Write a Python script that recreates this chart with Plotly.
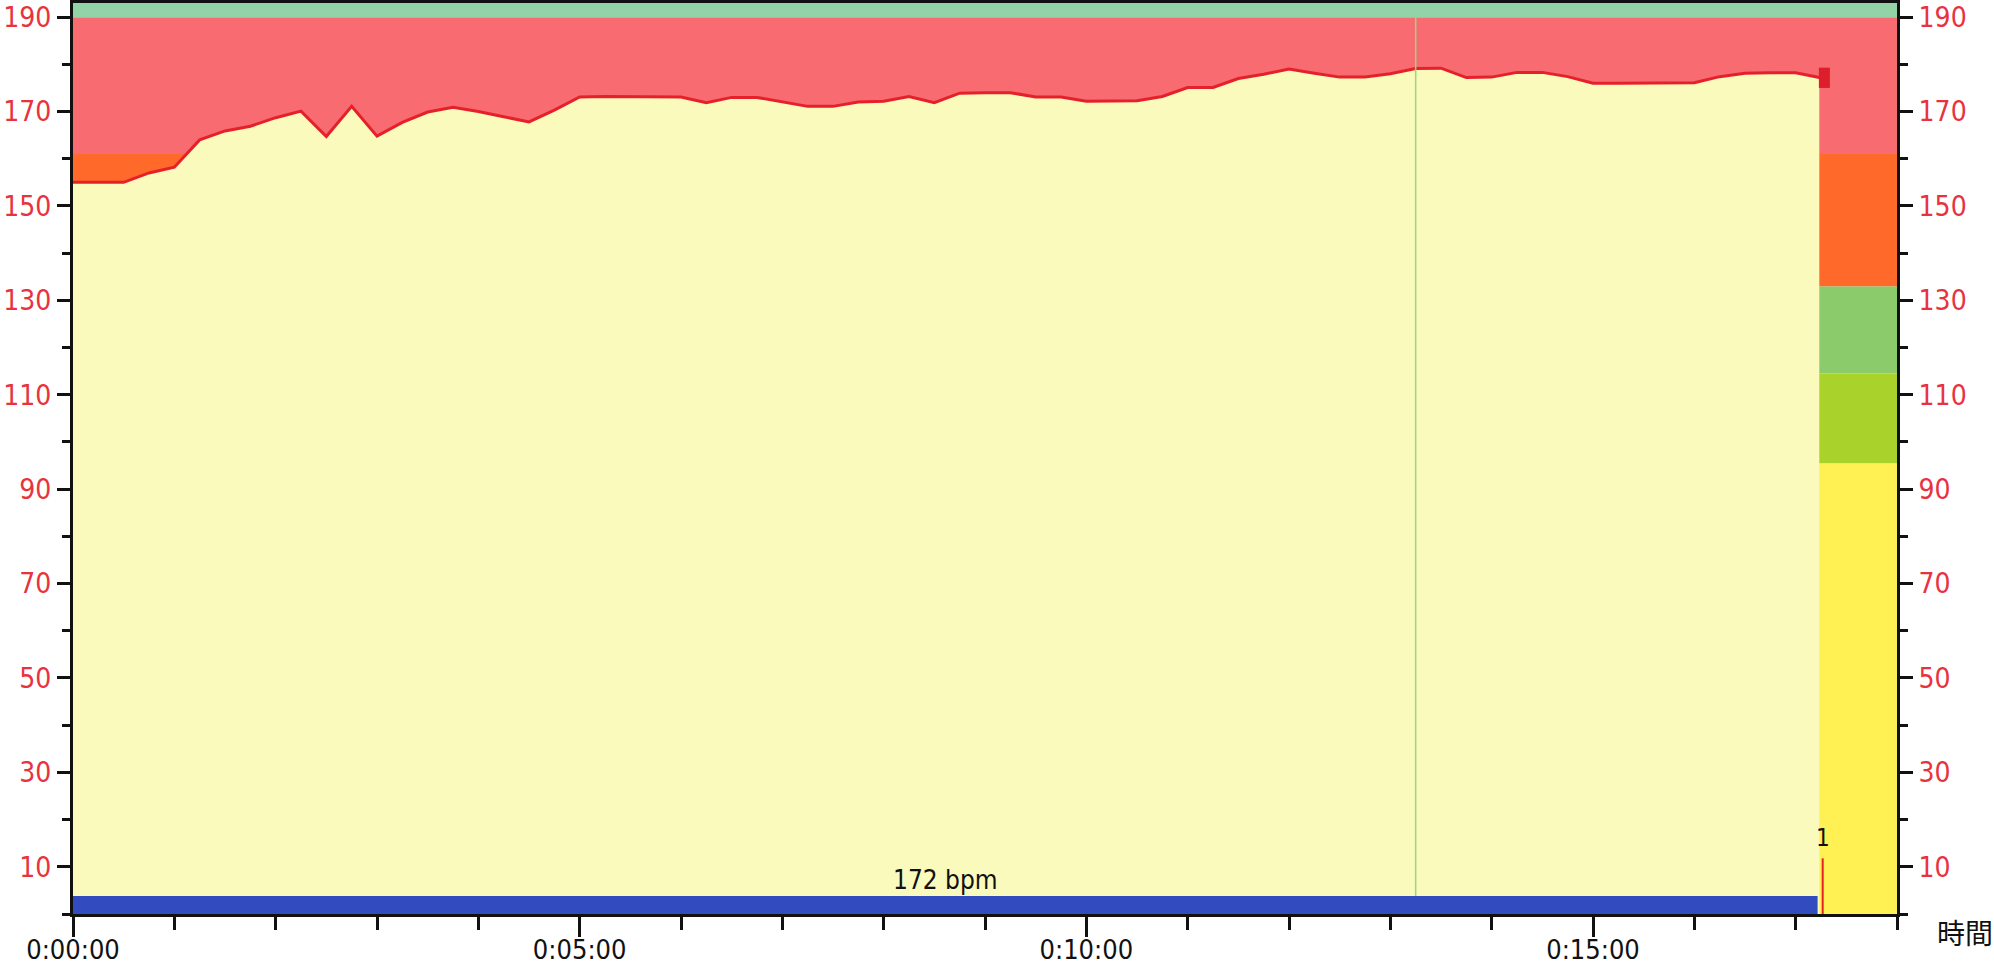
import plotly.graph_objects as go

# ---- data ----
time_s = [0, 15, 30, 45, 60, 75, 90, 105, 120, 135, 150, 165, 180, 195, 210, 225, 240, 255,
          270, 285, 300, 315, 330, 345, 360, 375, 390, 405, 420, 435, 450, 465, 480, 495,
          510, 525, 540, 555, 570, 585, 600, 615, 630, 645, 660, 675, 690, 705, 720, 735,
          750, 765, 780, 795, 810, 825, 840, 855, 870, 885, 900, 915, 930, 945, 960, 975,
          990, 1005, 1020, 1034]
heart_rate = [155.0, 155.0, 155.0, 157.0, 158.2, 164.0, 165.9, 166.9, 168.7, 170.1, 164.7, 171.1,
              164.8, 167.7, 169.9, 170.9, 170.0, 168.9, 167.8, 170.3, 173.1, 173.2, 173.2, 173.2,
              173.1, 171.9, 173.0, 173.0, 172.0, 171.1, 171.1, 172.0, 172.2, 173.2, 171.9, 173.9,
              174.0, 174.0, 173.1, 173.1, 172.2, 172.3, 172.3, 173.2, 175.1, 175.1, 177.0, 177.9,
              179.0, 178.1, 177.3, 177.3, 178.0, 179.1, 179.2, 177.2, 177.3, 178.3, 178.3, 177.4,
              176.0, 176.0, 176.0, 176.1, 176.1, 177.4, 178.1, 178.2, 178.2, 177.2]

zone_bounds = [0, 95.5, 114.5, 133, 161, 190, 193]
zone_colors = ["#FFF153", "#A9D22A", "#8BCB6C", "#FF6A2A", "#F76B71", "#92D4A8"]

avg_label = "172 bpm"
avg_bar_x = [0, 1033]
avg_bar_y = [3.8, 3.8]

lap_x = [1036, 1036]
lap_y = [0, 11.8]
lap_label = "1"
lap_label_y = 16

end_x = [1037, 1037]
end_y = [175.0, 179.3]

cursor_x = [795, 795]
cursor_y = [3.8, 190]

x_range = [0, 1080]
y_range = [0, 193]
x_tickvals = [0, 300, 600, 900]
x_ticktext = ["0:00:00", "0:05:00", "0:10:00", "0:15:00"]
y_tickvals = list(range(10, 191, 20))
x_title = "時間"

# ---- styles ----
FONT = "Liberation Sans Narrow, Arial Narrow, DejaVu Sans Condensed, sans-serif"
RED_TXT = "#E8333F"

fig = go.Figure()

shapes = []
for i, col in enumerate(zone_colors):
    shapes.append(dict(type="rect", xref="x", yref="y", x0=x_range[0], x1=x_range[1],
                       y0=zone_bounds[i], y1=zone_bounds[i + 1], fillcolor=col,
                       line=dict(width=0), layer="below"))

fig.add_trace(go.Scatter(x=time_s, y=heart_rate, mode="lines", fill="tozeroy",
                         fillcolor="#FAFABD", line=dict(color="#E5202B", width=3),
                         showlegend=False, hoverinfo="skip"))
fig.add_trace(go.Scatter(x=cursor_x, y=cursor_y, mode="lines",
                         line=dict(color="#9CD67E", width=1.5), showlegend=False))
fig.add_trace(go.Scatter(x=avg_bar_x, y=avg_bar_y, mode="lines", fill="tozeroy",
                         fillcolor="#324BBE", line=dict(width=0, color="#324BBE"),
                         showlegend=False))
fig.add_trace(go.Scatter(x=lap_x, y=lap_y, mode="lines",
                         line=dict(color="#E5202B", width=2), showlegend=False))
fig.add_trace(go.Scatter(x=end_x, y=end_y, mode="lines",
                         line=dict(color="#DD1F2D", width=11), showlegend=False))
fig.add_trace(go.Scatter(x=[None], y=[None], yaxis="y2", showlegend=False))

fig.add_annotation(x=(avg_bar_x[0] + avg_bar_x[1]) / 2, y=7.3, text=avg_label, showarrow=False,
                   font=dict(family=FONT, size=26, color="#111111"), xanchor="center", yanchor="middle")
fig.add_annotation(x=lap_x[0], y=lap_label_y, text=lap_label, showarrow=False,
                   font=dict(family=FONT, size=24, color="#111111"), xanchor="center", yanchor="middle")
fig.add_annotation(xref="paper", yref="paper", x=1.0206, y=-0.02, text=x_title, showarrow=False,
                   font=dict(family="Noto Sans CJK JP", size=28, color="#111111"),
                   xanchor="left", yanchor="middle")

yaxis_common = dict(range=y_range, tickmode="array", tickvals=y_tickvals,
                    ticktext=[str(v) for v in y_tickvals], ticks="outside", ticklen=13,
                    tickwidth=3, tickcolor="#111111", showline=True, linewidth=3,
                    linecolor="#111111", showgrid=False, zeroline=False, automargin=False,
                    tickfont=dict(family=FONT, size=28, color=RED_TXT),
                    minor=dict(tickmode="linear", tick0=0, dtick=20, ticks="outside",
                               ticklen=8, tickwidth=3, tickcolor="#111111"))

fig.update_layout(
    width=1994, height=967,
    margin=dict(l=73, r=97, t=3, b=53),
    paper_bgcolor="white", plot_bgcolor="white",
    shapes=shapes,
    xaxis=dict(range=x_range, tickmode="array", tickvals=x_tickvals, ticktext=x_ticktext,
               ticks="outside", ticklen=20, tickwidth=3, tickcolor="#111111",
               showline=True, linewidth=3, linecolor="#111111", mirror=True,
               showgrid=False, zeroline=False, automargin=False, ticklabelstandoff=-10,
               tickfont=dict(family=FONT, size=27, color="#111111"),
               minor=dict(tickmode="linear", tick0=0, dtick=60, ticks="outside",
                          ticklen=13, tickwidth=3, tickcolor="#111111")),
    yaxis=dict(**yaxis_common),
    yaxis2=dict(**yaxis_common, overlaying="y", side="right"),
    showlegend=False,
)

fig.write_html("out.html", config={"displayModeBar": False},
               post_script="document.body.style.margin='0px';")
